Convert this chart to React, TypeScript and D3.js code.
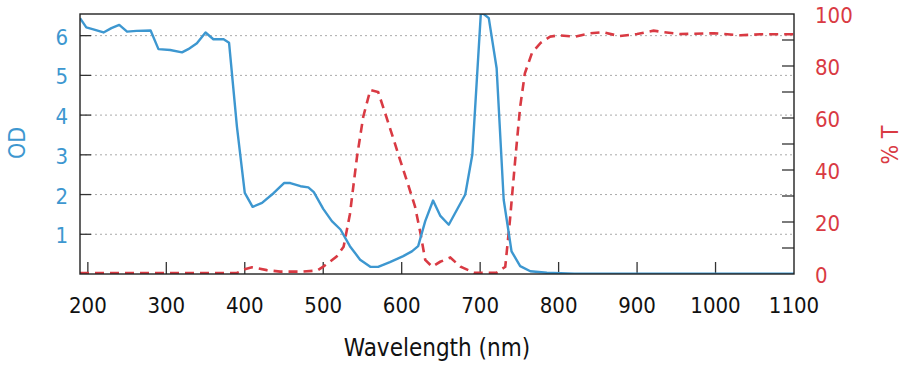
import React, { useEffect, useRef } from 'react'
import * as d3 from 'd3'

// OD curve (blue, left axis)
const odWavelength = [190, 198, 207, 220, 230, 240, 250, 262, 280, 290, 305, 320, 328, 339, 350, 360, 373, 380, 390, 400, 410, 422, 437, 450, 458, 471, 481, 488, 500, 511, 522, 534, 547, 560, 570, 585, 602, 613, 621, 630, 640, 649, 660, 681, 690, 701, 711, 721, 730, 740, 751, 764, 785, 820, 900, 1000, 1100]
const odValues = [6.44, 6.21, 6.16, 6.08, 6.19, 6.27, 6.1, 6.12, 6.13, 5.66, 5.64, 5.58, 5.66, 5.81, 6.08, 5.91, 5.91, 5.82, 3.71, 2.04, 1.69, 1.79, 2.04, 2.29, 2.29, 2.21, 2.18, 2.06, 1.64, 1.33, 1.12, 0.7, 0.36, 0.18, 0.18, 0.3, 0.45, 0.57, 0.7, 1.33, 1.85, 1.47, 1.24, 2.0, 3.0, 6.6, 6.44, 5.18, 1.87, 0.57, 0.2, 0.07, 0.03, 0.01, 0.01, 0.01, 0.01]

// Transmission curve (red dashed, right axis)
const tWavelength = [190, 250, 300, 350, 390, 400, 409, 428, 445, 471, 492, 500, 517, 526, 534, 543, 551, 560, 570, 579, 590, 598, 609, 617, 624, 630, 639, 649, 662, 675, 692, 721, 732, 738, 745, 751, 757, 766, 777, 789, 800, 821, 840, 857, 877, 900, 921, 934, 955, 998, 1032, 1057, 1100]
const tValues = [0.4, 0.4, 0.4, 0.4, 0.4, 1.8, 2.6, 1.5, 0.9, 0.9, 1.3, 2.8, 6.7, 10.5, 23, 45, 60.5, 70.8, 70, 61.8, 51.5, 43.8, 33.6, 25.9, 15.6, 5.4, 2.8, 4.7, 6.3, 2.8, 0.5, 0.5, 2.8, 20.8, 45, 64.3, 77.2, 85, 88.9, 91.3, 91.8, 91.3, 92.6, 93, 91.5, 92.3, 93.6, 93, 92.3, 92.6, 91.8, 92.2, 92.2]

const xTicks = [200, 300, 400, 500, 600, 700, 800, 900, 1000, 1100]
const odTicks = [1, 2, 3, 4, 5, 6]
const tLabels = [0, 20, 40, 60, 80, 100]
const tMinorTicks = [10, 20, 30, 40, 50, 60, 70, 80, 90]

const BLUE = '#3d97d0'
const RED = '#d93a43'
const FONT = '"DejaVu Sans Condensed", "DejaVu Sans", sans-serif'

const App = () => {
  const ref = useRef<SVGSVGElement>(null)

  useEffect(() => {
    const width = 918, height = 374
    const left = 80, right = 794, top = 14, bottom = 274

    const svg = d3.select(ref.current)
    svg.selectAll('*').remove()

    const x = d3.scaleLinear([190, 1100], [left, right])
    const yOD = d3.scaleLinear([0, 6.545], [bottom, top])
    const yT = d3.scaleLinear([0, 100], [bottom, top])

    svg.append('defs').append('clipPath').attr('id', 'plot-clip')
      .append('rect').attr('x', left).attr('y', top)
      .attr('width', right - left).attr('height', bottom - top)

    // grid
    svg.append('g')
      .selectAll('line')
      .data(odTicks)
      .join('line')
      .attr('x1', left).attr('x2', right)
      .attr('y1', d => yOD(d)).attr('y2', d => yOD(d))
      .attr('stroke', '#aaa')
      .attr('stroke-width', 1)
      .attr('stroke-dasharray', '2,3')

    // ticks (inward)
    const ticks = svg.append('g').attr('stroke', '#333').attr('stroke-width', 1.3)
    ticks.selectAll('.xt').data(xTicks.slice(0, -1)).join('line')
      .attr('x1', d => x(d)).attr('x2', d => x(d))
      .attr('y1', bottom).attr('y2', bottom - 12)
    ticks.selectAll('.yl').data(odTicks).join('line')
      .attr('x1', left).attr('x2', left + 11)
      .attr('y1', d => yOD(d)).attr('y2', d => yOD(d))
    ticks.selectAll('.yr').data(tMinorTicks).join('line')
      .attr('x1', right).attr('x2', right - 12)
      .attr('y1', d => yT(d)).attr('y2', d => yT(d))

    const plot = svg.append('g').attr('clip-path', 'url(#plot-clip)')

    const odLine = d3.line<number>()
      .x((d, i) => x(odWavelength[i]))
      .y(d => yOD(d))
    const tLine = d3.line<number>()
      .x((d, i) => x(tWavelength[i]))
      .y(d => yT(d))

    plot.append('path')
      .attr('d', tLine(tValues))
      .attr('fill', 'none')
      .attr('stroke', RED)
      .attr('stroke-width', 2.6)
      .attr('stroke-dasharray', '9,6')

    plot.append('path')
      .attr('d', odLine(odValues))
      .attr('fill', 'none')
      .attr('stroke', BLUE)
      .attr('stroke-width', 2.4)
      .attr('stroke-linejoin', 'round')

    // frame
    svg.append('rect')
      .attr('x', left).attr('y', top)
      .attr('width', right - left).attr('height', bottom - top)
      .attr('fill', 'none').attr('stroke', '#222').attr('stroke-width', 1.4)

    // labels
    const labels = svg.append('g').attr('font-family', FONT).attr('font-size', 22)
    labels.selectAll('.xl').data(xTicks).join('text')
      .attr('x', d => x(d)).attr('y', 313)
      .attr('text-anchor', 'middle').attr('fill', '#111')
      .text(d => d)
    labels.selectAll('.odl').data(odTicks).join('text')
      .attr('x', 68).attr('y', d => yOD(d) + 9)
      .attr('text-anchor', 'end').attr('fill', BLUE)
      .text(d => d)
    labels.selectAll('.tl').data(tLabels).join('text')
      .attr('x', 815).attr('y', d => yT(d) + 9)
      .attr('text-anchor', 'start').attr('fill', RED)
      .text(d => d)

    labels.append('text')
      .attr('x', 437).attr('y', 356)
      .attr('font-size', 24)
      .attr('text-anchor', 'middle').attr('fill', '#111')
      .text('Wavelength (nm)')
    labels.append('text')
      .attr('transform', 'translate(25,143) rotate(-90)')
      .attr('font-size', 23)
      .attr('text-anchor', 'middle').attr('fill', BLUE)
      .text('OD')
    labels.append('text')
      .attr('transform', 'translate(898,145) rotate(-90)')
      .attr('font-size', 23)
      .attr('text-anchor', 'middle').attr('fill', RED)
      .text('% T')

    svg.attr('width', width).attr('height', height)
  }, [])

  return (
    <div style={{ position: 'absolute', left: 0, top: 0, background: '#fff' }}>
      <svg ref={ref} width={918} height={374} style={{ display: 'block' }} />
    </div>
  )
}

export default App
